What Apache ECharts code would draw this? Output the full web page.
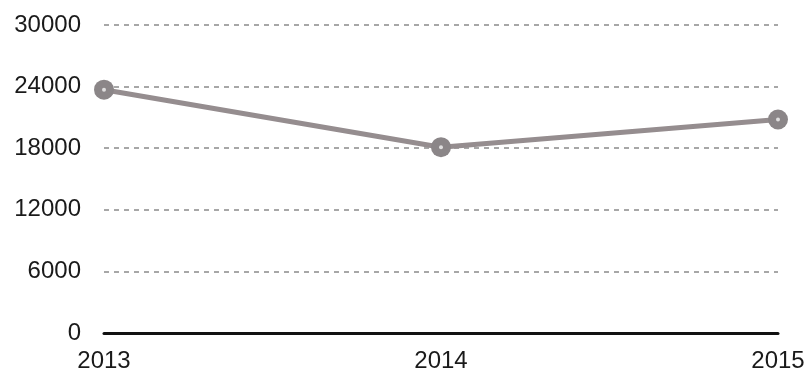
<!DOCTYPE html>
<html>
<head>
<meta charset="utf-8">
<style>
  html, body { margin: 0; padding: 0; background: #ffffff; }
  #chart { width: 810px; height: 377px; }
</style>
<script src="https://cdn.jsdelivr.net/npm/echarts@6/dist/echarts.min.js"></script>
</head>
<body>
<div id="chart"></div>
<script>
// Yearly values
const years = ['2013', '2014', '2015'];
const values = [23700, 18100, 20800];

// Value axis ticks
const yMin = 0;
const yMax = 30000;
const yStep = 6000;

const markerColor = '#8b8688';

const chart = echarts.init(document.getElementById('chart'), null, { renderer: 'canvas' });

chart.setOption({
  animation: false,
  backgroundColor: '#ffffff',
  grid: { left: 104, right: 32, top: 25, bottom: 44, containLabel: false },
  xAxis: {
    type: 'category',
    data: years,
    boundaryGap: false,
    axisLine: { show: true, lineStyle: { color: '#111111', width: 3 } },
    axisTick: { show: false },
    splitLine: { show: false },
    axisLabel: {
      color: '#1a1a1a',
      fontFamily: 'Liberation Sans, Arial, sans-serif',
      fontSize: 24,
      margin: 16
    }
  },
  yAxis: {
    type: 'value',
    min: yMin,
    max: yMax,
    interval: yStep,
    axisLine: { show: false },
    axisTick: { show: false },
    axisLabel: {
      color: '#1a1a1a',
      fontFamily: 'Liberation Sans, Arial, sans-serif',
      fontSize: 24,
      margin: 23,
      formatter: function (v) { return String(v); }
    },
    splitLine: {
      show: true,
      lineStyle: { color: '#8a8a8a', width: 1.5, type: [5, 5] }
    }
  },
  series: [
    {
      // line with solid round markers
      type: 'line',
      data: values,
      lineStyle: { color: '#958d8f', width: 5 },
      symbol: 'circle',
      symbolSize: 20,
      showSymbol: true,
      itemStyle: { color: markerColor },
      z: 3
    },
    {
      // small light hole in the middle of each marker
      type: 'scatter',
      data: values,
      symbol: 'circle',
      symbolSize: 4,
      itemStyle: { color: '#f4f4f4' },
      silent: true,
      z: 4
    }
  ]
});
</script>
</body>
</html>
